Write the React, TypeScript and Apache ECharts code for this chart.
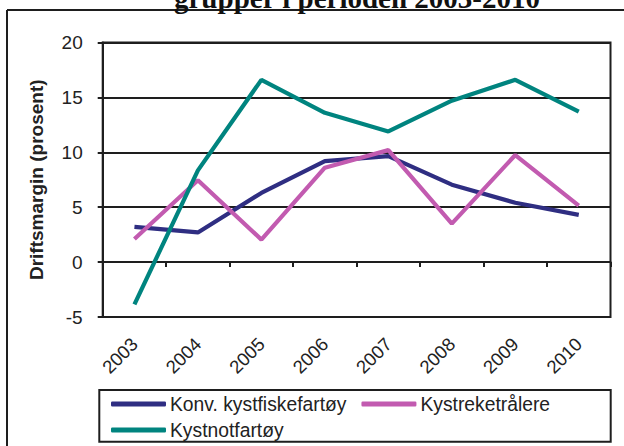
import React, { useEffect, useRef } from "react";
import * as echarts from "echarts";

const years = ["2003", "2004", "2005", "2006", "2007", "2008", "2009", "2010"];
const konvKystfiske = [3.2, 2.7, 6.3, 9.2, 9.65, 7.05, 5.4, 4.3];
const kystreketralere = [2.1, 7.45, 2.05, 8.6, 10.2, 3.5, 9.75, 5.15];
const kystnotfartoy = [-3.85, 8.35, 16.6, 13.6, 11.9, 14.7, 16.6, 13.7];
const seriesNames = ["Konv. kystfiskefartøy", "Kystreketrålere", "Kystnotfartøy"];
const titleText = "grupper i perioden 2003-2010";
const yAxisName = "Driftsmargin (prosent)";

const colors = ["#2f2e82", "#c25bb0", "#00847f"];
const sans = "'Liberation Sans', Arial, sans-serif";
const dark = "#1e1e1e";

export default function App() {
  const ref = useRef<HTMLDivElement>(null);
  useEffect(() => {
    if (!ref.current) return;
    const chart = echarts.init(ref.current, null, { renderer: "svg" });
    const data = [konvKystfiske, kystreketralere, kystnotfartoy];
    chart.setOption({
      animation: false,
      backgroundColor: "#ffffff",
      grid: {
        left: 102.7,
        right: 13.5,
        top: 42.5,
        bottom: 129,
        show: true,
        borderColor: dark,
        borderWidth: 2,
        backgroundColor: "transparent",
      },
      xAxis: {
        type: "category",
        data: years,
        boundaryGap: true,
        axisLine: { show: true, onZero: true, lineStyle: { color: dark, width: 2 } },
        axisTick: { show: true, alignWithLabel: false, inside: false, length: 5, lineStyle: { color: dark, width: 2 } },
        axisLabel: {
          rotate: 45,
          margin: 24,
          fontSize: 18.5,
          fontFamily: sans,
          color: "#222",
          interval: 0,
        },
        splitLine: { show: false },
      },
      yAxis: {
        type: "value",
        min: -5,
        max: 20,
        interval: 5,
        name: yAxisName,
        nameLocation: "middle",
        nameGap: 57,
        nameRotate: 90,
        nameTextStyle: { fontSize: 19, fontWeight: "bold", fontFamily: sans, color: "#222" },
        axisLine: { show: true, onZero: false, lineStyle: { color: dark, width: 2 } },
        axisTick: { show: true, inside: false, length: 5, lineStyle: { color: dark, width: 2 } },
        axisLabel: { margin: 20, fontSize: 19, fontFamily: sans, color: "#222" },
        splitLine: { show: true, lineStyle: { color: dark, width: 2 } },
      },
      legend: [
        {
          data: [seriesNames[0], seriesNames[1]],
          left: 111,
          top: 394.5,
          orient: "horizontal",
          itemWidth: 55,
          itemHeight: 5,
          itemGap: 15,
          icon: "roundRect",
          padding: 0,
          textStyle: { fontSize: 19.3, fontFamily: sans, color: "#222", padding: [0, 0, 0, -1] },
        },
        {
          data: [seriesNames[2]],
          left: 111,
          top: 420.5,
          orient: "horizontal",
          itemWidth: 55,
          itemHeight: 5,
          icon: "roundRect",
          padding: 0,
          textStyle: { fontSize: 19.3, fontFamily: sans, color: "#222", padding: [0, 0, 0, -1] },
        },
      ],
      graphic: [
        {
          type: "line",
          shape: { x1: 7, y1: 10, x2: 7, y2: 446 },
          style: { stroke: dark, lineWidth: 2 },
        },
        {
          type: "line",
          shape: { x1: 7, y1: 10, x2: 624, y2: 10 },
          style: { stroke: dark, lineWidth: 2 },
        },
        {
          type: "rect",
          shape: { x: 99.3, y: 390, width: 511.4, height: 51.7 },
          style: { fill: "none", stroke: dark, lineWidth: 2 },
        },
        {
          type: "text",
          x: 357,
          y: 12,
          style: {
            text: titleText,
            font: "bold 29px 'Liberation Serif', 'Times New Roman', serif",
            fill: "#111",
            align: "center",
            verticalAlign: "bottom",
          },
        },
      ],
      series: data.map((d, i) => ({
        name: seriesNames[i],
        type: "line",
        data: d,
        symbol: "none",
        lineStyle: { color: colors[i], width: 4.2 },
        itemStyle: { color: colors[i] },
        emphasis: { disabled: true },
      })),
    });
    return () => chart.dispose();
  }, []);
  return <div ref={ref} style={{ width: 624, height: 446, position: "absolute", left: 0, top: 0 }} />;
}
